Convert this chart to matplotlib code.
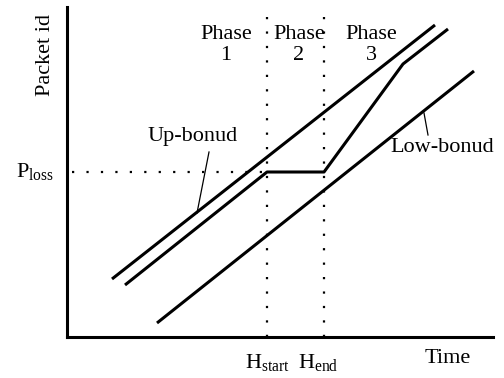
import matplotlib
matplotlib.use("Agg")
import matplotlib.pyplot as plt

plt.rcParams['font.family'] = ['Liberation Serif', 'DejaVu Serif']
plt.rcParams['mathtext.fontset'] = 'custom'
plt.rcParams['mathtext.rm'] = 'Liberation Serif'
plt.rcParams['mathtext.it'] = 'Liberation Serif:italic'

# schematic data (arbitrary units)
up_t = [45, 368]
up_p = [58, 312]
act_t = [58, 200, 257, 336, 381]
act_p = [52, 165, 165, 273, 308]
low_t = [90, 407]
low_p = [14, 266]
h_start, h_end = 200, 257
p_loss = 165
phase_x = [159, 232, 304]
phase_names = ['Phase\n1', 'Phase\n2', 'Phase\n3']

fig = plt.figure(figsize=(5.04, 3.78), dpi=100)
ax = fig.add_axes([67 / 504, 41 / 378, 426 / 504, 330 / 378])
ax.set_xlim(0, 426)
ax.set_ylim(0, 330)
for s in ['top', 'right']:
    ax.spines[s].set_visible(False)
for s in ['left', 'bottom']:
    ax.spines[s].set_linewidth(2.2)
ax.set_xticks([])
ax.set_yticks([])

# dotted guides
dot = (0, (1, 5.5))
ax.plot([h_start, h_start], [0, 328], color='k', lw=1.6, linestyle=dot, clip_on=False)
ax.plot([h_end, h_end], [0, 328], color='k', lw=1.6, linestyle=dot, clip_on=False)
ax.plot([5, h_start], [p_loss, p_loss], color='k', lw=1.6, linestyle=dot)

ax.plot(up_t, up_p, color='k', lw=2.2, solid_capstyle='butt')
ax.plot(act_t, act_p, color='k', lw=2.2, solid_capstyle='butt')
ax.plot(low_t, low_p, color='k', lw=2.2, solid_capstyle='butt')

# leader lines for bound labels
ax.plot([142, 130], [185, 124], color='k', lw=0.9)
ax.plot([357, 361], [224, 202], color='k', lw=0.9)
ax.text(126, 200, 'Up-bonud', fontsize=16, ha='center', va='center')
ax.text(375, 189, 'Low-bonud', fontsize=16, ha='center', va='center')

for x, name in zip(phase_x, phase_names):
    ax.text(x, 292, name, fontsize=16, ha='center', va='center', linespacing=1.1)

ax.text(-22, 282, 'Packet id', fontsize=16, rotation=90, ha='center', va='center', clip_on=False)
ax.text(381, -26, 'Time', fontsize=16, ha='center', va='baseline', clip_on=False)
ax.text(-32, p_loss, r'P$_{\mathrm{loss}}$', fontsize=16, ha='center', va='center', clip_on=False)
ax.text(h_start, -31, r'H$_{\mathrm{start}}$', fontsize=16, ha='center', va='baseline', clip_on=False)
ax.text(251.5, -31, r'H$_{\mathrm{end}}$', fontsize=16, ha='center', va='baseline', clip_on=False)

fig.savefig('out.png', dpi=100)
